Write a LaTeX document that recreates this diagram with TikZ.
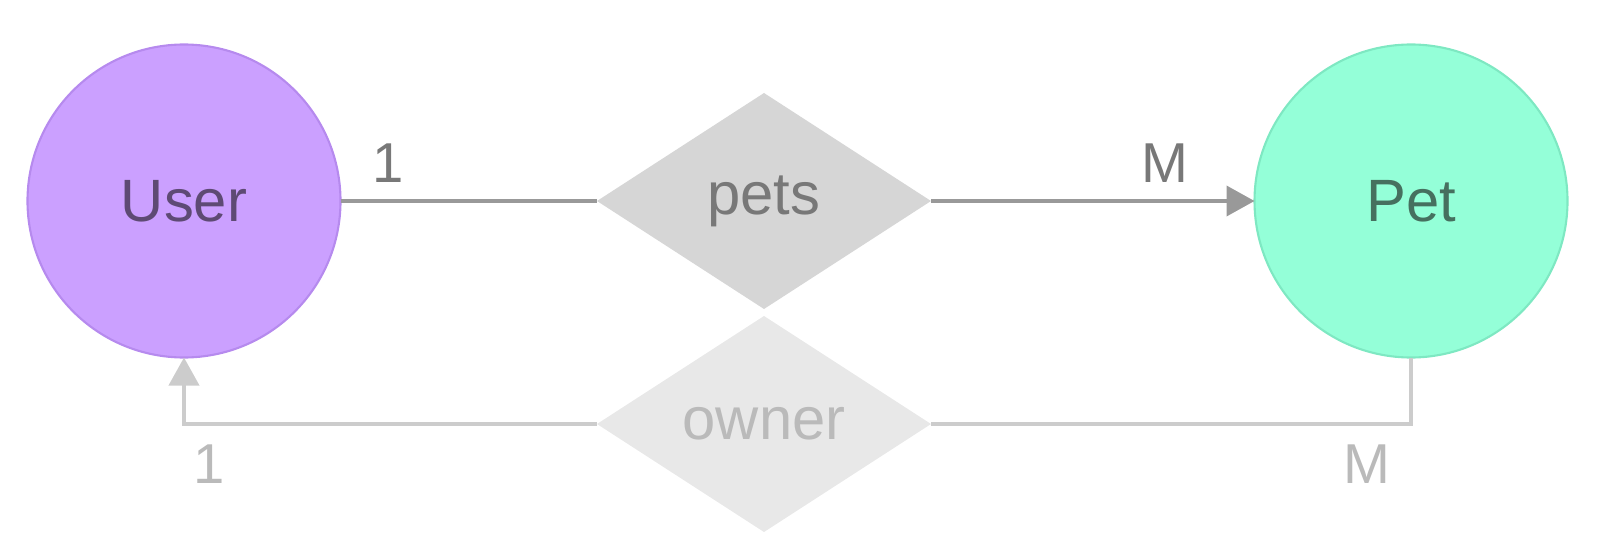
\documentclass[tikz,border=0pt]{standalone}
\usepackage{fontspec}
\setmainfont{Liberation Sans}
\usetikzlibrary{shapes.geometric, arrows.meta, positioning}
\definecolor{userfill}{HTML}{CBA0FF}
\definecolor{userdraw}{HTML}{B68AEE}
\definecolor{usertext}{HTML}{5E4A74}
\definecolor{petfill}{HTML}{94FFD8}
\definecolor{petdraw}{HTML}{7EE8C2}
\definecolor{pettext}{HTML}{46705F}
\tikzset{
  er entity/.style={
    circle, minimum size=3.13cm, inner sep=0pt, outer sep=0pt, line width=0.6pt,
    font=\fontsize{17}{20}\selectfont
  },
  er relation/.style={
    diamond, minimum width=3.34cm, minimum height=2.16cm, inner sep=0pt,
    outer sep=0pt, font=\fontsize{17}{20}\selectfont
  },
  er link/.style={
    line width=1.1pt, draw=black!40
  },
  er back/.style={
    line width=1.1pt, draw=black!20
  },
  er card/.style={
    font=\fontsize{16}{19}\selectfont, inner sep=0pt
  }
}
\begin{document}
\begin{tikzpicture}
\useasboundingbox (0,0) rectangle (16,-5.4);

% entities
\node[er entity, fill=userfill, draw=userdraw, text=usertext] (user) at (1.84,-2.01) {\raisebox{-0.4ex}{User}};
\node[er entity, fill=petfill, draw=petdraw, text=pettext] (pet) at (14.11,-2.01) {\raisebox{-0.4ex}{Pet}};

% relations
\node[er relation, fill=black!16, text=black!53] (pets) at (7.64,-2.01) {\raisebox{-0.3ex}{pets}};
\node[er relation, fill=black!9, text=black!27] (owner) at (7.64,-4.24) {\raisebox{-0.3ex}{owner}};

% connectors
\draw[er link] (user.east) -- (pets.west);
\draw[er link, -{Triangle[length=0.28cm, width=0.3cm]}] (pets.east) -- (pet.west);
\draw[er back] (pet.south) |- (owner.east);
\draw[er back, -{Triangle[length=0.28cm, width=0.3cm]}] (owner.west) -| (user.south);

% cardinalities
\node[er card, text=black!53] (c1) at (3.88,-1.63) {1};
\node[er card, text=black!53] (c2) at (11.65,-1.63) {M};
\node[er card, text=black!27] (c3) at (2.09,-4.64) {1};
\node[er card, text=black!27] (c4) at (13.67,-4.64) {M};

\end{tikzpicture}
\end{document}
